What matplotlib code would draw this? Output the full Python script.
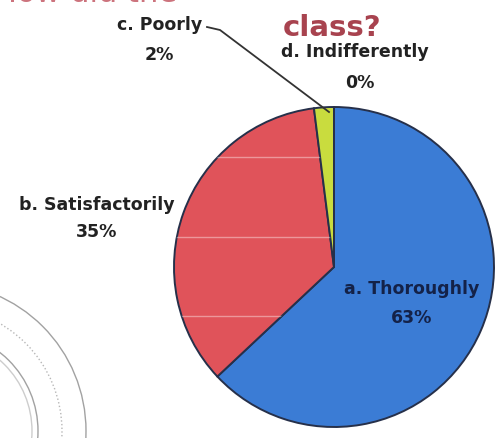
import matplotlib
matplotlib.use('Agg')
import matplotlib.pyplot as plt
from matplotlib.patches import Circle

# survey answers
labels = ['a. Thoroughly', 'b. Satisfactorily', 'c. Poorly', 'd. Indifferently']
percents = [63, 35, 2, 0]
colors = ['#3b7cd5', '#e0535a', '#c9dc3e', '#8fb0e0']

# label anchor points (pixel coords, y down)
name_pos = [(412, 289), (97, 205), (160, 25), (355, 52)]
pct_pos = [(412, 318), (97, 232), (159, 55), (360, 83)]
text_colors = ['#142248', '#222222', '#222222', '#222222']

W, H = 501, 439
fig = plt.figure(figsize=(W / 100, H / 100), dpi=100)
ax = fig.add_axes([0, 0, 1, 1])

# y axis runs downward, so counterclock in data space is clockwise on screen
wedges, _ = ax.pie(percents, colors=colors, startangle=270, counterclock=True,
                   center=(334, 268), radius=160, frame=True,
                   wedgeprops=dict(edgecolor='#26304a', linewidth=1.4))

# faint ruled lines showing through the red slice
for yy in [158, 238, 317]:
    ln, = ax.plot([150, 340], [yy, yy], color='white', lw=1.0, alpha=0.4)
    ln.set_clip_path(wedges[1])

for lab, p, (nx, ny), (px, py), tc in zip(labels, percents, name_pos, pct_pos, text_colors):
    ax.text(nx, ny, lab, ha='center', va='center', fontsize=12.5, color=tc,
            family='DejaVu Sans', weight='bold')
    ax.text(px, py, f'{p}%', ha='center', va='center', fontsize=12.5, color=tc,
            family='DejaVu Sans', weight='bold')

# leader line for the small slice
ax.plot([207, 220, 329], [28, 31, 113], color='#333333', lw=1.3)

# title, first line runs off the top
ax.text(-6, 1.8, 'How did the', ha='left', va='baseline', fontsize=22,
        color='#c0505c', family='DejaVu Sans', alpha=0.8)
ax.text(332, 36, 'class?', ha='center', va='baseline', fontsize=21,
        color='#a8434f', family='DejaVu Sans', weight='bold')

# faint stamp in the lower left corner
for r, ls, a in [(148, '-', 0.65), (124, ':', 0.5), (100, '-', 0.65), (94, '-', 0.35)]:
    ax.add_patch(Circle((-62, 432), r, fill=False, ec='#707070', lw=1.0,
                        ls=ls, alpha=a))

ax.set_xlim(0, W)
ax.set_ylim(H, 0)
ax.set_aspect('equal')
ax.axis('off')

fig.savefig('out.png', dpi=100)
